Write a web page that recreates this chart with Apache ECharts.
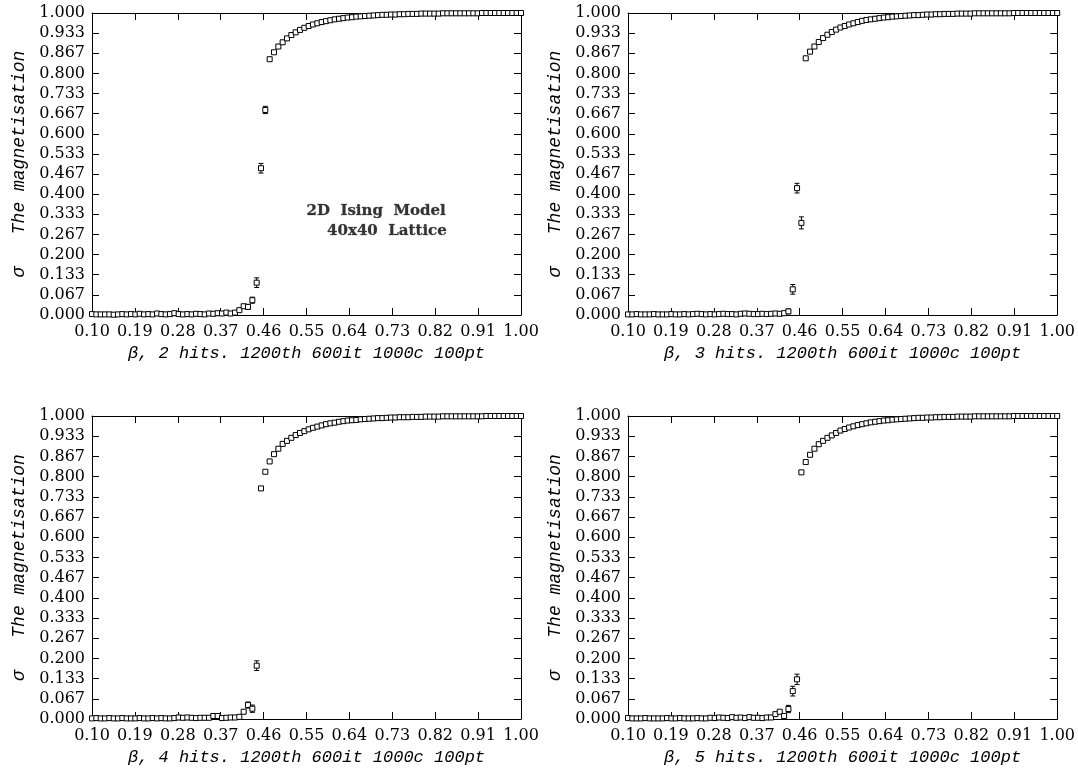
<!DOCTYPE html>
<html><head><meta charset="utf-8">
<script src="https://cdn.jsdelivr.net/npm/echarts@6/dist/echarts.min.js"></script>
<style>html,body{margin:0;padding:0;background:#fff}#c{width:1078px;height:770px}</style>
</head><body><div id="c"></div>
<script>
// beta grid: 100 points from 0.10 to 1.00
const beta = [
0.1000,0.1091,0.1182,0.1273,0.1364,0.1455,0.1545,0.1636,0.1727,0.1818,
0.1909,0.2000,0.2091,0.2182,0.2273,0.2364,0.2455,0.2545,0.2636,0.2727,
0.2818,0.2909,0.3000,0.3091,0.3182,0.3273,0.3364,0.3455,0.3545,0.3636,
0.3727,0.3818,0.3909,0.4000,0.4091,0.4182,0.4273,0.4364,0.4455,0.4545,
0.4636,0.4727,0.4818,0.4909,0.5000,0.5091,0.5182,0.5273,0.5364,0.5455,
0.5545,0.5636,0.5727,0.5818,0.5909,0.6000,0.6091,0.6182,0.6273,0.6364,
0.6455,0.6545,0.6636,0.6727,0.6818,0.6909,0.7000,0.7091,0.7182,0.7273,
0.7364,0.7455,0.7545,0.7636,0.7727,0.7818,0.7909,0.8000,0.8091,0.8182,
0.8273,0.8364,0.8455,0.8545,0.8636,0.8727,0.8818,0.8909,0.9000,0.9091,
0.9182,0.9273,0.9364,0.9455,0.9545,0.9636,0.9727,0.9818,0.9909,1.0000];

const sigma2hits = [
0.003,0.002,0.002,0.002,0.002,0.001,0.002,0.003,0.002,0.003,
0.002,0.004,0.002,0.003,0.002,0.005,0.003,0.002,0.003,0.006,
0.003,0.002,0.003,0.002,0.004,0.003,0.002,0.005,0.004,0.006,
0.005,0.008,0.005,0.008,0.016,0.029,0.027,0.049,0.107,0.486,
0.679,0.847,0.870,0.889,0.903,0.916,0.927,0.936,0.944,0.951,
0.957,0.962,0.966,0.970,0.973,0.976,0.979,0.981,0.983,0.985,
0.986,0.988,0.989,0.990,0.991,0.992,0.993,0.994,0.994,0.995,
0.995,0.996,0.996,0.997,0.997,0.997,0.998,0.998,0.998,0.998,
0.998,0.999,0.999,0.999,0.999,0.999,0.999,0.999,0.999,0.999,
1.000,1.000,1.000,1.000,1.000,1.000,1.000,1.000,1.000,1.000];

const sigma3hits = [
0.002,0.002,0.003,0.002,0.002,0.002,0.003,0.002,0.002,0.002,
0.003,0.002,0.002,0.003,0.002,0.003,0.004,0.003,0.002,0.003,
0.002,0.003,0.004,0.003,0.003,0.002,0.004,0.005,0.004,0.003,
0.003,0.004,0.003,0.004,0.005,0.004,0.006,0.012,0.085,0.420,
0.305,0.850,0.872,0.889,0.904,0.917,0.928,0.937,0.945,0.952,
0.957,0.962,0.966,0.970,0.974,0.977,0.979,0.981,0.983,0.985,
0.986,0.988,0.989,0.990,0.991,0.992,0.993,0.993,0.994,0.995,
0.995,0.996,0.996,0.997,0.997,0.997,0.998,0.998,0.998,0.998,
0.999,0.999,0.999,0.999,0.999,0.999,0.999,0.999,0.999,1.000,
1.000,1.000,1.000,1.000,1.000,1.000,1.000,1.000,1.000,1.000];

const sigma4hits = [
0.002,0.003,0.002,0.002,0.003,0.002,0.002,0.003,0.002,0.002,
0.002,0.003,0.002,0.002,0.003,0.002,0.003,0.002,0.002,0.003,
0.005,0.004,0.005,0.004,0.003,0.004,0.004,0.004,0.010,0.010,
0.003,0.004,0.005,0.005,0.007,0.024,0.046,0.034,0.176,0.761,
0.816,0.850,0.874,0.892,0.908,0.918,0.928,0.937,0.944,0.950,
0.956,0.961,0.965,0.969,0.973,0.976,0.978,0.981,0.983,0.985,
0.986,0.987,0.989,0.990,0.991,0.992,0.993,0.993,0.994,0.995,
0.995,0.996,0.996,0.996,0.997,0.997,0.997,0.998,0.998,0.998,
0.998,0.999,0.999,0.999,0.999,0.999,0.999,0.999,0.999,0.999,
0.999,1.000,1.000,1.000,1.000,1.000,1.000,1.000,1.000,1.000];

const sigma5hits = [
0.003,0.002,0.002,0.002,0.003,0.002,0.002,0.002,0.002,0.003,
0.002,0.002,0.003,0.002,0.002,0.002,0.003,0.002,0.002,0.004,
0.003,0.005,0.004,0.003,0.006,0.004,0.005,0.003,0.006,0.004,
0.004,0.003,0.005,0.005,0.016,0.024,0.010,0.033,0.092,0.131,
0.814,0.848,0.872,0.892,0.907,0.918,0.928,0.936,0.944,0.952,
0.957,0.962,0.966,0.970,0.973,0.976,0.979,0.981,0.983,0.985,
0.986,0.988,0.989,0.990,0.991,0.992,0.993,0.994,0.994,0.995,
0.995,0.996,0.996,0.997,0.997,0.997,0.998,0.998,0.998,0.998,
0.999,0.999,0.999,0.999,0.999,0.999,0.999,0.999,0.999,1.000,
1.000,1.000,1.000,1.000,1.000,1.000,1.000,1.000,1.000,1.000];

// visible error bars (index -> half-length); others are hidden by markers
const err2hits = {36:0.008, 37:0.010, 38:0.016, 39:0.016, 40:0.012};
const err3hits = {37:0.008, 38:0.016, 39:0.016, 40:0.020};
const err4hits = {36:0.010, 37:0.012, 38:0.016};
const err5hits = {37:0.012, 38:0.016, 39:0.017};

const xTitles = [
'β, 2 hits. 1200th 600it 1000c 100pt',
'β, 3 hits. 1200th 600it 1000c 100pt',
'β, 4 hits. 1200th 600it 1000c 100pt',
'β, 5 hits. 1200th 600it 1000c 100pt'];
const yTitle = 'σ   The magnetisation';
const noteLines = ['2D  Ising  Model', '40x40  Lattice'];

const panels = [
  {y: sigma2hits, err: err2hits, grid: {left: 92, top: 13, width: 429, height: 302}},
  {y: sigma3hits, err: err3hits, grid: {left: 628, top: 13, width: 430, height: 302}},
  {y: sigma4hits, err: err4hits, grid: {left: 92, top: 416, width: 429, height: 303}},
  {y: sigma5hits, err: err5hits, grid: {left: 628, top: 416, width: 430, height: 303}}
];

const FONT = 'DejaVu Serif';
const TITLEFONT = 'Liberation Mono';
const grids = [], xAxes = [], yAxes = [], series = [];
panels.forEach((p, k) => {
  grids.push(Object.assign({show: false}, p.grid));
  const xBase = {
    type: 'value', gridIndex: k, min: 0.1, max: 1.0, interval: 0.09,
    axisLine: {show: true, onZero: false, lineStyle: {color: '#000', width: 1}},
    axisTick: {show: true, inside: true, length: 7, lineStyle: {color: '#000'}},
    splitLine: {show: false}
  };
  xAxes.push(Object.assign({}, xBase, {
    position: 'bottom',
    axisLabel: {show: true, margin: 9, color: '#000', fontFamily: FONT, fontSize: 16,
      formatter: v => v.toFixed(2)},
    name: xTitles[k], nameLocation: 'middle', nameGap: 30,
    nameTextStyle: {color: '#000', fontFamily: TITLEFONT, fontStyle: 'italic', fontSize: 17}
  }));
  xAxes.push(Object.assign({}, xBase, {position: 'top', axisLabel: {show: false}}));
  const yBase = {
    type: 'value', gridIndex: k, min: 0, max: 1, interval: 1/15,
    axisLine: {show: true, onZero: false, lineStyle: {color: '#000', width: 1}},
    axisTick: {show: true, inside: true, length: 7, lineStyle: {color: '#000'}},
    splitLine: {show: false}
  };
  yAxes.push(Object.assign({}, yBase, {
    position: 'left',
    axisLabel: {show: true, margin: 7, color: '#000', fontFamily: FONT, fontSize: 16,
      formatter: v => v.toFixed(3)},
    name: yTitle, nameLocation: 'middle', nameGap: 64, nameRotate: 90,
    nameTextStyle: {color: '#000', fontFamily: TITLEFONT, fontStyle: 'italic', fontSize: 18,
      padding: [0, 0, 0, 0]}
  }));
  yAxes.push(Object.assign({}, yBase, {position: 'right', axisLabel: {show: false}}));

  const errData = Object.keys(p.err).map(i => {
    const yi = p.y[i], e = p.err[i];
    return [beta[i], yi - e, yi + e];
  });
  series.push({
    type: 'custom', xAxisIndex: 2 * k, yAxisIndex: 2 * k, data: errData, silent: true, z: 2,
    renderItem: (params, api) => {
      const lo = api.coord([api.value(0), api.value(1)]);
      const hi = api.coord([api.value(0), api.value(2)]);
      const c = 2.5;
      const st = {stroke: '#000', lineWidth: 1};
      return {type: 'group', children: [
        {type: 'line', shape: {x1: lo[0], y1: lo[1], x2: hi[0], y2: hi[1]}, style: st},
        {type: 'line', shape: {x1: lo[0] - c, y1: lo[1], x2: lo[0] + c, y2: lo[1]}, style: st},
        {type: 'line', shape: {x1: hi[0] - c, y1: hi[1], x2: hi[0] + c, y2: hi[1]}, style: st}
      ]};
    }
  });
  series.push({
    type: 'scatter', xAxisIndex: 2 * k, yAxisIndex: 2 * k, clip: false, z: 3,
    symbol: 'rect', symbolSize: 5,
    itemStyle: {color: '#fff', borderColor: '#000', borderWidth: 1, opacity: 1},
    data: beta.map((b, i) => [b, p.y[i]])
  });
});

const chart = echarts.init(document.getElementById('c'), null, {renderer: 'canvas'});
chart.setOption({
  backgroundColor: '#fff',
  animation: false,
  grid: grids, xAxis: xAxes, yAxis: yAxes, series: series,
  graphic: [
    {type: 'text', right: 1078 - 446, top: 203, style: {text: noteLines[0], fill: '#333',
      font: 'bold 15px "DejaVu Serif"', textAlign: 'right', stroke: '#999', lineWidth: 0.5}},
    {type: 'text', right: 1078 - 447, top: 223, style: {text: noteLines[1], fill: '#333',
      font: 'bold 15px "DejaVu Serif"', textAlign: 'right', stroke: '#999', lineWidth: 0.5}}
  ]
});
</script>
</body></html>
